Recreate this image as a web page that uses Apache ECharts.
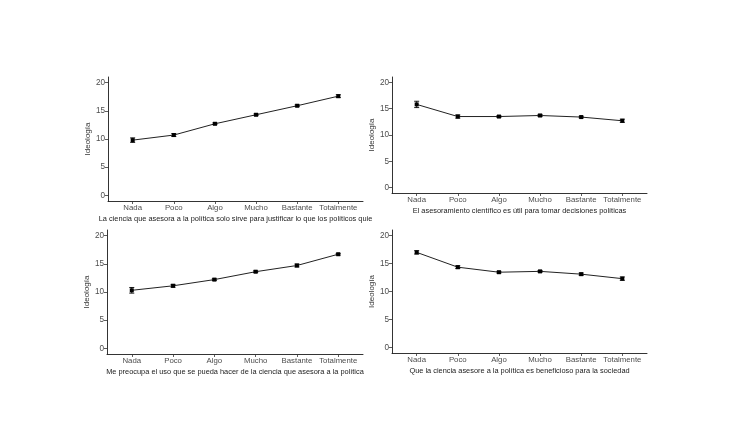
<!DOCTYPE html>
<html><head><meta charset="utf-8">
<script src="https://cdn.jsdelivr.net/npm/echarts@6/dist/echarts.min.js"></script>
<style>html,body{margin:0;padding:0;background:#fff}#c{width:754px;height:424px}</style>
</head><body><div id="c"></div>
<script>
const categories = ['Nada','Poco','Algo','Mucho','Bastante','Totalmente'];
const yTicks = [0,5,10,15,20];
const titles = [
  'La ciencia que asesora a la política solo sirve para justificar lo que los políticos quie',
  'El asesoramiento científico es útil para tomar decisiones políticas',
  'Me preocupa el uso que se pueda hacer de la ciencia que asesora a la política',
  'Que la ciencia asesore a la política es beneficioso para la sociedad'
];
const p1Mean = [9.8,10.7,12.7,14.3,15.9,17.6];
const p1Err  = [0.4,0.25,0.15,0.15,0.15,0.25];
const p2Mean = [15.8,13.5,13.5,13.7,13.4,12.7];
const p2Err  = [0.6,0.3,0.15,0.2,0.15,0.3];
const p3Mean = [10.3,11.1,12.2,13.6,14.7,16.7];
const p3Err  = [0.5,0.25,0.15,0.15,0.25,0.15];
const p4Mean = [17.0,14.35,13.45,13.6,13.1,12.3];
const p4Err  = [0.3,0.25,0.15,0.15,0.2,0.3];

const means = [p1Mean,p2Mean,p3Mean,p4Mean];
const errs = [p1Err,p2Err,p3Err,p4Err];
const grids = [
  {left:108, top:77, width:255, height:124},
  {left:392, top:77, width:255, height:116},
  {left:107, top:230, width:256, height:124},
  {left:392, top:230, width:255, height:123}
];
const font = 'Liberation Sans, Arial, sans-serif';
const chart = echarts.init(document.getElementById('c'));
const xAxis = [], yAxis = [], series = [];
grids.forEach((g,i)=>{
  xAxis.push({
    type:'value', gridIndex:i, min:-0.6, max:5.6,
    name: titles[i], nameLocation:'middle', nameGap:14,
    nameTextStyle:{color:'#1a1a1a', fontSize:7.4, fontFamily:font},
    axisLine:{show:true, onZero:false, lineStyle:{color:'#000', width:0.8}},
    axisTick:{show:true, length:3, lineStyle:{color:'#333', width:0.8}, customValues:[0,1,2,3,4,5]},
    axisLabel:{color:'#4d4d4d', fontSize:7.8, fontFamily:font, margin:3,
      customValues:[0,1,2,3,4,5], formatter:v=>categories[Math.round(v)]},
    splitLine:{show:false}
  });
  yAxis.push({
    type:'value', gridIndex:i, min:-1, max:21,
    name:'Ideología', nameLocation:'middle', nameGap:11,
    nameTextStyle:{color:'#333', fontSize:8, fontFamily:font},
    axisLine:{show:true, onZero:false, lineStyle:{color:'#000', width:0.8}},
    axisTick:{show:true, length:3, lineStyle:{color:'#333', width:0.8}, customValues:yTicks},
    axisLabel:{color:'#4d4d4d', fontSize:8.2, fontFamily:font, margin:3, customValues:yTicks},
    splitLine:{show:false}
  });
  const data = means[i].map((v,k)=>[k,v]);
  series.push({
    type:'line', xAxisIndex:i, yAxisIndex:i, data:data,
    symbol:'rect', symbolSize:4, itemStyle:{color:'#000'},
    lineStyle:{color:'#222', width:1}, animation:false, z:3
  });
  const eb = means[i].map((v,k)=>[k, v-errs[i][k], v+errs[i][k]]);
  series.push({
    type:'custom', xAxisIndex:i, yAxisIndex:i, data:eb, animation:false, z:4,
    renderItem:(params, api)=>{
      const lo = api.coord([api.value(0), api.value(1)]);
      const hi = api.coord([api.value(0), api.value(2)]);
      const w = 2.5;
      const st = {stroke:'#000', lineWidth:0.9};
      return {type:'group', children:[
        {type:'line', shape:{x1:lo[0],y1:lo[1],x2:hi[0],y2:hi[1]}, style:st},
        {type:'line', shape:{x1:lo[0]-w,y1:lo[1],x2:lo[0]+w,y2:lo[1]}, style:st},
        {type:'line', shape:{x1:hi[0]-w,y1:hi[1],x2:hi[0]+w,y2:hi[1]}, style:st}
      ]};
    }
  });
});
chart.setOption({backgroundColor:'#fff', animation:false, grid:grids, xAxis, yAxis, series});
</script></body></html>
